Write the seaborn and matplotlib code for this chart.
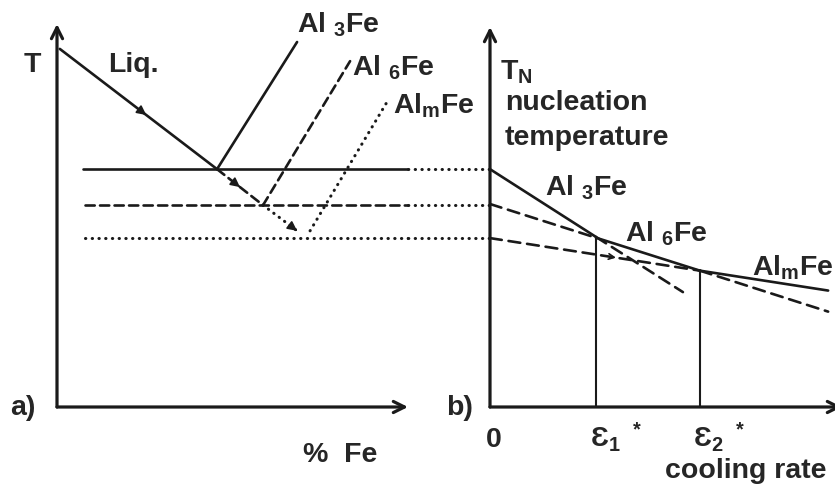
import matplotlib
matplotlib.use("Agg")
import numpy as np
import pandas as pd
import seaborn as sns
import matplotlib.pyplot as plt

# ---------------- data (schematic, arbitrary units) ----------------
# panel a: composition (% Fe) vs temperature T
liq_x = [0.08, 4.56]            # stable liquidus down to eutectic
liq_T = [9.35, 6.21]
ext_dash_x = [4.56, 5.87]       # metastable liquidus extension
ext_dash_T = [6.21, 5.27]
ext_dot_x = [5.87, 6.84]
ext_dot_T = [5.27, 4.60]
al3fe_x = [4.56, 6.84]          # Al3Fe liquidus
al3fe_T = [6.21, 9.53]
al6fe_x = [5.87, 8.35]          # Al6Fe liquidus
al6fe_T = [5.27, 9.03]
almfe_x = [7.21, 9.40]          # AlmFe liquidus
almfe_T = [4.60, 7.96]
eut_T = [6.21, 5.27, 4.41]      # eutectic temperatures Al3Fe, Al6Fe, AlmFe
eut_start = [0.74, 0.80, 0.80]
eut_end_a = 10.0
eut_end_b = 12.34               # continuation up to panel b axis

# panel b: cooling rate vs nucleation temperature
eps1, eps2 = 2.0, 3.96
b_al3fe_rate = [0.0, eps1, 3.64]
b_al3fe_TN = [6.21, 4.44, 3.00]
b_al6fe_rate = [0.0, eps1, eps2, 6.38]
b_al6fe_TN = [5.30, 4.42, 3.56, 2.49]
b_almfe_rate = [0.0, eps2, 6.38]
b_almfe_TN = [4.41, 3.56, 3.04]

phase_labels = ["Al $_3$Fe", "Al $_6$Fe", "Al$_m$Fe"]
tick_labels = ["0", "Ɛ$_1$ $^*$", "Ɛ$_2$ $^*$"]

# ---------------- styling ----------------
sns.set_theme(style="white")
plt.rcParams["font.family"] = ["Liberation Sans", "DejaVu Sans"]
plt.rcParams["mathtext.default"] = "regular"

W, H = 835, 502
fig = plt.figure(figsize=(W / 100, H / 100), dpi=100)
fig.patch.set_facecolor("white")

ax_a = fig.add_axes([57 / W, 1 - 408 / H, (408 - 57) / W, (408 - 25) / H])
ax_b = fig.add_axes([490 / W, 1 - 408 / H, (842 - 490) / W, (408 - 28) / H])
ax_a.set_xlim(0, 10)
ax_a.set_ylim(0, 10)
ax_b.set_xlim(0, (842 - 490) / 53)
ax_b.set_ylim(0, 380 / 38.3)

for ax in (ax_a, ax_b):
    ax.patch.set_alpha(0)
    for s in ax.spines.values():
        s.set_visible(False)
    ax.set_xticks([])
    ax.set_yticks([])
    for xy in [(0, 1), (1, 0)]:
        ax.annotate("", xy=xy, xytext=(0, 0), xycoords="axes fraction",
                    arrowprops=dict(arrowstyle="->", lw=2.3, color="k",
                                    mutation_scale=20, shrinkA=0, shrinkB=0),
                    annotation_clip=False)

LW = 1.9
DASH_A = (0, (3.5, 2.0))
DASH_B = (0, (4.5, 2.6))
DOT = (0, (0.1, 2.1))


def seg(ax, xs, ys, ls="-", lw=LW, clip=True):
    if ls is DOT:
        lw = 2.2
    sns.lineplot(x=xs, y=ys, ax=ax, color="k", lw=lw, linestyle=ls,
                 sort=False, estimator=None, dash_capstyle="round",
                 clip_on=clip, legend=False)


def arrow_on(ax, xs, ys, t, style="-|>", ms=14, lw=1.2):
    x0 = xs[0] + (xs[1] - xs[0]) * (t - 0.03)
    y0 = ys[0] + (ys[1] - ys[0]) * (t - 0.03)
    x1 = xs[0] + (xs[1] - xs[0]) * t
    y1 = ys[0] + (ys[1] - ys[0]) * t
    ax.annotate("", xy=(x1, y1), xytext=(x0, y0),
                arrowprops=dict(arrowstyle=style, color="k", lw=lw,
                                mutation_scale=ms, shrinkA=0, shrinkB=0))


# ----- panel a -----
seg(ax_a, liq_x, liq_T)
arrow_on(ax_a, liq_x, liq_T, 0.55)
seg(ax_a, ext_dash_x, ext_dash_T, DASH_A)
arrow_on(ax_a, ext_dash_x, ext_dash_T, 0.5)
seg(ax_a, ext_dot_x, ext_dot_T, DOT)
arrow_on(ax_a, ext_dot_x, ext_dot_T, 1.0)
seg(ax_a, al3fe_x, al3fe_T)
seg(ax_a, al6fe_x, al6fe_T, DASH_A)
seg(ax_a, almfe_x, almfe_T, DOT)
for T, x0, ls in zip(eut_T, eut_start, ["-", DASH_A, DOT]):
    seg(ax_a, [x0, eut_end_a], [T, T], ls)
    seg(ax_a, [eut_end_a, eut_end_b], [T, T], DOT, clip=False)

# ----- panel b -----
seg(ax_b, b_al3fe_rate[:2], b_al3fe_TN[:2])
seg(ax_b, b_al3fe_rate[1:], b_al3fe_TN[1:], DASH_B)
seg(ax_b, b_al6fe_rate[:2], b_al6fe_TN[:2], DASH_B)
seg(ax_b, b_al6fe_rate[1:3], b_al6fe_TN[1:3])
seg(ax_b, b_al6fe_rate[2:], b_al6fe_TN[2:], DASH_B)
seg(ax_b, b_almfe_rate[:2], b_almfe_TN[:2], DASH_B)
seg(ax_b, b_almfe_rate[1:], b_almfe_TN[1:])
arrow_on(ax_b, b_almfe_rate[:2], b_almfe_TN[:2], 0.6, style="->", ms=10)
seg(ax_b, [eps1, eps1], [0, b_al6fe_TN[1]], lw=1.5)
seg(ax_b, [eps2, eps2], [0, b_al6fe_TN[2]], lw=1.5)

# ----- text -----
FS = 20.5


def label(px, py, s, fs=FS, **kw):
    fig.text(px / W, 1 - py / H, s, fontsize=fs, fontweight="bold",
             va="baseline", ha="left", **kw)


label(24, 72, "T")
label(108, 72, "Liq.")
label(297, 33, phase_labels[0])
label(352, 75, phase_labels[1])
label(393, 113, phase_labels[2])
label(500, 80, "T$_N$")
label(505, 110, "nucleation")
label(505, 145, "temperature")
label(545, 195, phase_labels[0])
label(625, 242, phase_labels[1])
label(752, 276, phase_labels[2])
label(10, 415, "a)")
label(446, 415, "b)")
label(303, 462, "%  Fe")
label(665, 478, "cooling rate")
label(486, 447, tick_labels[0])
label(590, 447, tick_labels[1])
label(693, 447, tick_labels[2])

fig.savefig("out.png", dpi=100, facecolor="white")
